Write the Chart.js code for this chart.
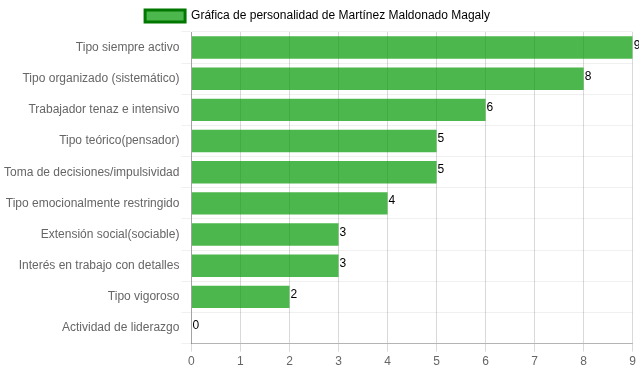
<!DOCTYPE html>
<html><head><meta charset="utf-8">
<script src="https://cdn.jsdelivr.net/npm/chart.js@4/dist/chart.umd.min.js"></script>
<style>html,body{margin:0;padding:0;background:#fff}#w{width:639px;height:372px}</style>
</head><body><div id="w"><canvas id="c"></canvas></div>
<script>
const categories = ["Tipo siempre activo","Tipo organizado (sistemático)","Trabajador tenaz e intensivo","Tipo teórico(pensador)","Toma de decisiones/impulsividad","Tipo emocionalmente restringido","Extensión social(sociable)","Interés en trabajo con detalles","Tipo vigoroso","Actividad de liderazgo"];
const values = [9,8,6,5,5,4,3,3,2,0];
const seriesLabel = "Gráfica de personalidad de Martínez Maldonado Magaly";

Chart.defaults.font.family = "'Liberation Sans', Arial, sans-serif";
Chart.defaults.font.size = 12;
Chart.defaults.color = "#666";

const valueLabels = {
  id: 'valueLabels',
  afterDatasetsDraw(chart) {
    const ctx = chart.ctx;
    const meta = chart.getDatasetMeta(0);
    ctx.save();
    ctx.fillStyle = '#000';
    ctx.font = "12px 'Liberation Sans', Arial, sans-serif";
    ctx.textAlign = 'left';
    ctx.textBaseline = 'alphabetic';
    meta.data.forEach((bar, i) => {
      ctx.fillText(String(values[i]), bar.x + 1, bar.y + 1);
    });
    ctx.restore();
  }
};

new Chart(document.getElementById('c'), {
  type: 'bar',
  data: {
    labels: categories,
    datasets: [{
      label: seriesLabel,
      data: values,
      backgroundColor: 'rgba(0,153,0,0.7)',
      borderColor: 'rgb(0,120,0)',
      borderWidth: 0
    }]
  },
  options: {
    indexAxis: 'y',
    responsive: true,
    maintainAspectRatio: false,
    animation: false,
    layout: { padding: { left: 2, right: 6, bottom: 0 } },
    plugins: {
      legend: {
        labels: {
          boxWidth: 40,
          boxHeight: 12,
          generateLabels(chart) {
            return [{
              text: seriesLabel,
              fillStyle: 'rgba(0,153,0,0.7)',
              strokeStyle: 'rgb(0,120,0)',
              lineWidth: 3,
              datasetIndex: 0,
              hidden: false
            }];
          }
        }
      },
      tooltip: { enabled: false }
    },
    scales: {
      x: {
        min: 0, max: 9,
        ticks: { stepSize: 1, padding: 3 },
        grid: { color: 'rgba(0,0,0,0.15)', tickLength: 8 },
        border: { color: 'rgba(0,0,0,0.25)' }
      },
      y: {
        ticks: { padding: 2 },
        grid: { color: 'rgba(0,0,0,0.06)', offset: true, tickLength: 10 },
        border: { color: 'rgba(0,0,0,0.25)' }
      }
    }
  },
  plugins: [valueLabels]
});
</script></body></html>
